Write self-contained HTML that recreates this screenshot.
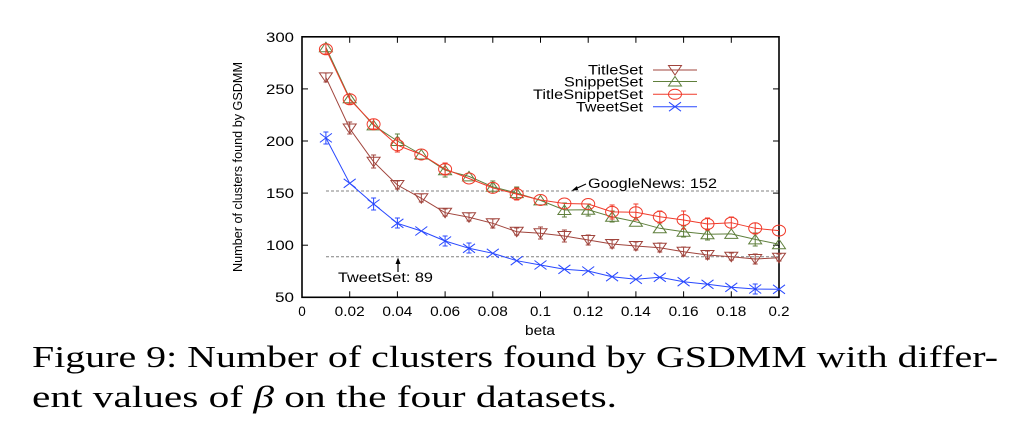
<!DOCTYPE html>
<html>
<head>
<meta charset="utf-8">
<style>
html,body{margin:0;padding:0;background:#fff;}
svg{display:block;}
</style>
</head>
<body>
<svg width="1024" height="438" viewBox="0 0 1024 438" xmlns="http://www.w3.org/2000/svg">
<rect width="1024" height="438" fill="#fff"/>

<!-- dashed reference lines -->
<g stroke="#808080" stroke-width="1" stroke-dasharray="3,2" fill="none">
  <line x1="326" y1="191" x2="779" y2="191"/>
  <line x1="326" y1="256.7" x2="779" y2="256.7"/>
</g>

<!-- axes frame -->
<rect x="302" y="36.8" width="477" height="260.5" fill="none" stroke="#000" stroke-width="1.6"/>

<!-- ticks -->
<g stroke="#000" stroke-width="1">
  <!-- x ticks bottom & top -->
  <line x1="349.7" y1="297.3" x2="349.7" y2="291.3"/><line x1="349.7" y1="36.8" x2="349.7" y2="42.8"/>
  <line x1="397.4" y1="297.3" x2="397.4" y2="291.3"/><line x1="397.4" y1="36.8" x2="397.4" y2="42.8"/>
  <line x1="445.1" y1="297.3" x2="445.1" y2="291.3"/><line x1="445.1" y1="36.8" x2="445.1" y2="42.8"/>
  <line x1="492.8" y1="297.3" x2="492.8" y2="291.3"/><line x1="492.8" y1="36.8" x2="492.8" y2="42.8"/>
  <line x1="540.5" y1="297.3" x2="540.5" y2="291.3"/><line x1="540.5" y1="36.8" x2="540.5" y2="42.8"/>
  <line x1="588.2" y1="297.3" x2="588.2" y2="291.3"/><line x1="588.2" y1="36.8" x2="588.2" y2="42.8"/>
  <line x1="635.9" y1="297.3" x2="635.9" y2="291.3"/><line x1="635.9" y1="36.8" x2="635.9" y2="42.8"/>
  <line x1="683.6" y1="297.3" x2="683.6" y2="291.3"/><line x1="683.6" y1="36.8" x2="683.6" y2="42.8"/>
  <line x1="731.3" y1="297.3" x2="731.3" y2="291.3"/><line x1="731.3" y1="36.8" x2="731.3" y2="42.8"/>
  <!-- y ticks left & right -->
  <line x1="302" y1="245.2" x2="308" y2="245.2"/><line x1="779" y1="245.2" x2="773" y2="245.2"/>
  <line x1="302" y1="193.1" x2="308" y2="193.1"/><line x1="779" y1="193.1" x2="773" y2="193.1"/>
  <line x1="302" y1="141" x2="308" y2="141"/><line x1="779" y1="141" x2="773" y2="141"/>
  <line x1="302" y1="88.9" x2="308" y2="88.9"/><line x1="779" y1="88.9" x2="773" y2="88.9"/>
</g>

<!-- tick labels -->
<g font-family="Liberation Sans, Arial, sans-serif" font-size="13.5" fill="#000">
  <text x="294" y="42" text-anchor="end" textLength="28" lengthAdjust="spacingAndGlyphs">300</text>
  <text x="294" y="94" text-anchor="end" textLength="28" lengthAdjust="spacingAndGlyphs">250</text>
  <text x="294" y="146" text-anchor="end" textLength="28" lengthAdjust="spacingAndGlyphs">200</text>
  <text x="294" y="198" text-anchor="end" textLength="28" lengthAdjust="spacingAndGlyphs">150</text>
  <text x="294" y="250" text-anchor="end" textLength="28" lengthAdjust="spacingAndGlyphs">100</text>
  <text x="294" y="302" text-anchor="end" textLength="19" lengthAdjust="spacingAndGlyphs">50</text>

  <text x="302" y="316" text-anchor="middle">0</text>
  <text x="349.7" y="316" text-anchor="middle" textLength="30" lengthAdjust="spacingAndGlyphs">0.02</text>
  <text x="397.4" y="316" text-anchor="middle" textLength="30" lengthAdjust="spacingAndGlyphs">0.04</text>
  <text x="445.1" y="316" text-anchor="middle" textLength="30" lengthAdjust="spacingAndGlyphs">0.06</text>
  <text x="492.8" y="316" text-anchor="middle" textLength="30" lengthAdjust="spacingAndGlyphs">0.08</text>
  <text x="540.5" y="316" text-anchor="middle" textLength="21" lengthAdjust="spacingAndGlyphs">0.1</text>
  <text x="588.2" y="316" text-anchor="middle" textLength="30" lengthAdjust="spacingAndGlyphs">0.12</text>
  <text x="635.9" y="316" text-anchor="middle" textLength="30" lengthAdjust="spacingAndGlyphs">0.14</text>
  <text x="683.6" y="316" text-anchor="middle" textLength="30" lengthAdjust="spacingAndGlyphs">0.16</text>
  <text x="731.3" y="316" text-anchor="middle" textLength="30" lengthAdjust="spacingAndGlyphs">0.18</text>
  <text x="779" y="316" text-anchor="middle" textLength="21" lengthAdjust="spacingAndGlyphs">0.2</text>

  <text x="540" y="335" text-anchor="middle" textLength="30" lengthAdjust="spacingAndGlyphs">beta</text>

  <text transform="translate(242,167) rotate(-90)" text-anchor="middle" font-size="12.5" textLength="210" lengthAdjust="spacingAndGlyphs">Number of clusters found by GSDMM</text>

  <!-- annotations -->
  <text x="588" y="188" textLength="129" lengthAdjust="spacingAndGlyphs">GoogleNews: 152</text>
  <text x="338" y="282" textLength="95" lengthAdjust="spacingAndGlyphs">TweetSet: 89</text>

  <!-- legend text -->
  <text x="643" y="74.5" text-anchor="end" textLength="55" lengthAdjust="spacingAndGlyphs">TitleSet</text>
  <text x="643" y="86.5" text-anchor="end" textLength="79" lengthAdjust="spacingAndGlyphs">SnippetSet</text>
  <text x="643" y="99" text-anchor="end" textLength="110" lengthAdjust="spacingAndGlyphs">TitleSnippetSet</text>
  <text x="643" y="111.5" text-anchor="end" textLength="67" lengthAdjust="spacingAndGlyphs">TweetSet</text>
</g>

<!-- annotation arrows -->
<g stroke="#000" stroke-width="1.2" fill="#000">
  <line x1="586" y1="184" x2="574" y2="189.5"/>
  <polygon points="571.5,190.8 577,186 578,190" stroke="none"/>
  <line x1="398" y1="272" x2="398" y2="262"/>
  <polygon points="398,257.5 395.5,264 400.5,264" stroke="none"/>
</g>

<!-- TitleSet (brown, down triangles) -->
<g stroke="#a0443c" stroke-width="1" fill="none">
  <polyline points="325.9,77.4 349.7,128.5 373.6,161.8 397.4,185 421.3,198.3 445.1,212.7 469,217.3 492.8,223.3 516.7,231.7 540.5,233.3 564.4,236 588.2,240 612.1,244 635.9,246 659.8,247.7 683.6,251.7 707.5,255 731.3,256.7 755.2,259 779,257.7"/>
  <g id="ebT">
    <path d="M325.9,73v9 M323.5,73h5 M323.5,82h5"/>
    <path d="M349.7,122v12 M347.2,122h5 M347.2,134h5"/>
    <path d="M373.6,155v13 M371.1,155h5 M371.1,168h5"/>
    <path d="M397.4,181v8 M394.9,181h5 M394.9,189h5"/>
    <path d="M421.3,194v8 M418.8,194h5 M418.8,202h5"/>
    <path d="M445.1,209v7 M442.6,209h5 M442.6,216h5"/>
    <path d="M469,213v8 M466.5,213h5 M466.5,221h5"/>
    <path d="M492.8,219v9 M490.3,219h5 M490.3,228h5"/>
    <path d="M516.7,228v7 M514.2,228h5 M514.2,235h5"/>
    <path d="M540.5,227v12 M538,227h5 M538,239h5"/>
    <path d="M564.4,230v12 M561.9,230h5 M561.9,242h5"/>
    <path d="M588.2,235v10 M585.7,235h5 M585.7,245h5"/>
    <path d="M612.1,240v8 M609.6,240h5 M609.6,248h5"/>
    <path d="M635.9,242v8 M633.4,242h5 M633.4,250h5"/>
    <path d="M659.8,243v9 M657.3,243h5 M657.3,252h5"/>
    <path d="M683.6,247v9 M681.1,247h5 M681.1,256h5"/>
    <path d="M707.5,251v8 M705,251h5 M705,259h5"/>
    <path d="M731.3,253v7 M728.8,253h5 M728.8,260h5"/>
    <path d="M755.2,254v10 M752.7,254h5 M752.7,264h5"/>
    <path d="M779,254v7 M776.5,254h5 M776.5,261h5"/>
  </g>
  <g>
    <polygon points="319.4,72.9 332.4,72.9 325.9,82.4"/>
    <polygon points="343.2,124 356.2,124 349.7,133.5"/>
    <polygon points="367.1,157.3 380.1,157.3 373.6,166.8"/>
    <polygon points="390.9,180.5 403.9,180.5 397.4,190"/>
    <polygon points="414.8,193.8 427.8,193.8 421.3,203.3"/>
    <polygon points="438.6,208.2 451.6,208.2 445.1,217.7"/>
    <polygon points="462.5,212.8 475.5,212.8 469,222.3"/>
    <polygon points="486.3,218.8 499.3,218.8 492.8,228.3"/>
    <polygon points="510.2,227.2 523.2,227.2 516.7,236.7"/>
    <polygon points="534,228.8 547,228.8 540.5,238.3"/>
    <polygon points="557.9,231.5 570.9,231.5 564.4,241"/>
    <polygon points="581.7,235.5 594.7,235.5 588.2,245"/>
    <polygon points="605.6,239.5 618.6,239.5 612.1,249"/>
    <polygon points="629.4,241.5 642.4,241.5 635.9,251"/>
    <polygon points="653.3,243.2 666.3,243.2 659.8,252.7"/>
    <polygon points="677.1,247.2 690.1,247.2 683.6,256.7"/>
    <polygon points="701,250.5 714,250.5 707.5,260"/>
    <polygon points="724.8,252.2 737.8,252.2 731.3,261.7"/>
    <polygon points="748.7,254.5 761.7,254.5 755.2,264"/>
    <polygon points="772.5,253.2 785.5,253.2 779,262.7"/>
  </g>
</g>

<!-- SnippetSet (green, up triangles) -->
<g stroke="#5f7f3c" stroke-width="1" fill="none">
  <polyline points="325.9,47.2 349.7,98.3 373.6,125.4 397.4,141 421.3,154.5 445.1,170.2 469,176.4 492.8,186.8 516.7,193.1 540.5,200.4 564.4,210 588.2,209.8 612.1,216.8 635.9,221.8 659.8,228.3 683.6,231.7 707.5,234.3 731.3,233.9 755.2,239.4 779,244.2"/>
  <path d="M397.4,134v18 M394.9,134h5 M394.9,152h5"/>
  <path d="M445.1,164v13 M442.6,164h5 M442.6,177h5"/>
  <path d="M492.8,181v12 M490.3,181h5 M490.3,193h5"/>
  <path d="M516.7,187v12 M514.2,187h5 M514.2,199h5"/>
  <path d="M564.4,203v14 M561.9,203h5 M561.9,217h5"/>
  <path d="M588.2,204v12 M585.7,204h5 M585.7,216h5"/>
  <path d="M612.1,211v11 M609.6,211h5 M609.6,222h5"/>
  <path d="M683.6,226v11 M681.1,226h5 M681.1,237h5"/>
  <path d="M707.5,229v11 M705,229h5 M705,240h5"/>
  <path d="M755.2,233v13 M752.7,233h5 M752.7,246h5"/>
  <g>
    <polygon points="319.4,51.7 332.4,51.7 325.9,42.2"/>
    <polygon points="343.2,102.8 356.2,102.8 349.7,93.3"/>
    <polygon points="367.1,129.9 380.1,129.9 373.6,120.4"/>
    <polygon points="390.9,145.5 403.9,145.5 397.4,136"/>
    <polygon points="414.8,159 427.8,159 421.3,149.5"/>
    <polygon points="438.6,174.7 451.6,174.7 445.1,165.2"/>
    <polygon points="462.5,180.9 475.5,180.9 469,171.4"/>
    <polygon points="486.3,191.3 499.3,191.3 492.8,181.8"/>
    <polygon points="510.2,197.6 523.2,197.6 516.7,188.1"/>
    <polygon points="534,204.9 547,204.9 540.5,195.4"/>
    <polygon points="557.9,214.5 570.9,214.5 564.4,205"/>
    <polygon points="581.7,214.3 594.7,214.3 588.2,204.8"/>
    <polygon points="605.6,221.3 618.6,221.3 612.1,211.8"/>
    <polygon points="629.4,226.3 642.4,226.3 635.9,216.8"/>
    <polygon points="653.3,232.8 666.3,232.8 659.8,223.3"/>
    <polygon points="677.1,236.2 690.1,236.2 683.6,226.7"/>
    <polygon points="701,238.8 714,238.8 707.5,229.3"/>
    <polygon points="724.8,238.4 737.8,238.4 731.3,228.9"/>
    <polygon points="748.7,243.9 761.7,243.9 755.2,234.4"/>
    <polygon points="772.5,248.7 785.5,248.7 779,239.2"/>
  </g>
</g>

<!-- TitleSnippetSet (red, circles) -->
<g stroke="#f03a2a" stroke-width="1" fill="none">
  <polyline points="325.9,49.3 349.7,99.3 373.6,124.3 397.4,145.2 421.3,154.5 445.1,169.1 469,178.5 492.8,187.9 516.7,194.1 540.5,200 564.4,203.5 588.2,204 612.1,211.9 635.9,212.3 659.8,216.8 683.6,220 707.5,224 731.3,222.7 755.2,228.3 779,230.6"/>
  <path d="M325.9,44v10 M323.4,44h5 M323.4,54h5"/>
  <path d="M349.7,94v10 M347.2,94h5 M347.2,104h5"/>
  <path d="M373.6,119v10 M371.1,119h5 M371.1,129h5"/>
  <path d="M397.4,138v14 M394.9,138h5 M394.9,152h5"/>
  <path d="M445.1,163v12 M442.6,163h5 M442.6,175h5"/>
  <path d="M516.7,188v12 M514.2,188h5 M514.2,200h5"/>
  <path d="M612.1,205v14 M609.6,205h5 M609.6,219h5"/>
  <path d="M635.9,204v16 M633.4,204h5 M633.4,220h5"/>
  <path d="M659.8,211v12 M657.3,211h5 M657.3,223h5"/>
  <path d="M683.6,211v18 M681.1,211h5 M681.1,229h5"/>
  <path d="M707.5,218v12 M705,218h5 M705,230h5"/>
  <path d="M731.3,217v11 M728.8,217h5 M728.8,228h5"/>
  <path d="M755.2,223v11 M752.7,223h5 M752.7,234h5"/>
  <g>
    <ellipse cx="325.9" cy="49.3" rx="6.5" ry="5.5"/>
    <ellipse cx="349.7" cy="99.3" rx="6.5" ry="5.5"/>
    <ellipse cx="373.6" cy="124.3" rx="6.5" ry="5.5"/>
    <ellipse cx="397.4" cy="145.2" rx="6.5" ry="5.5"/>
    <ellipse cx="421.3" cy="154.5" rx="6.5" ry="5.5"/>
    <ellipse cx="445.1" cy="169.1" rx="6.5" ry="5.5"/>
    <ellipse cx="469" cy="178.5" rx="6.5" ry="5.5"/>
    <ellipse cx="492.8" cy="187.9" rx="6.5" ry="5.5"/>
    <ellipse cx="516.7" cy="194.1" rx="6.5" ry="5.5"/>
    <ellipse cx="540.5" cy="200" rx="6.5" ry="5.5"/>
    <ellipse cx="564.4" cy="203.5" rx="6.5" ry="5.5"/>
    <ellipse cx="588.2" cy="204" rx="6.5" ry="5.5"/>
    <ellipse cx="612.1" cy="211.9" rx="6.5" ry="5.5"/>
    <ellipse cx="635.9" cy="212.3" rx="6.5" ry="5.5"/>
    <ellipse cx="659.8" cy="216.8" rx="6.5" ry="5.5"/>
    <ellipse cx="683.6" cy="220" rx="6.5" ry="5.5"/>
    <ellipse cx="707.5" cy="224" rx="6.5" ry="5.5"/>
    <ellipse cx="731.3" cy="222.7" rx="6.5" ry="5.5"/>
    <ellipse cx="755.2" cy="228.3" rx="6.5" ry="5.5"/>
    <ellipse cx="779" cy="230.6" rx="6.5" ry="5.5"/>
  </g>
</g>

<!-- TweetSet (blue, X) -->
<g stroke="#2848ff" stroke-width="1" fill="none">
  <polyline points="325.9,137.9 349.7,183.3 373.6,204 397.4,223.3 421.3,231 445.1,241 469,248.3 492.8,253.3 516.7,260.7 540.5,265 564.4,269.3 588.2,271 612.1,276.7 635.9,279.3 659.8,277.3 683.6,281.7 707.5,284.3 731.3,287.3 755.2,289 779,289.3"/>
  <path d="M325.9,132v12 M323.4,132h5 M323.4,144h5"/>
  <path d="M373.6,198v12 M371.1,198h5 M371.1,210h5"/>
  <path d="M397.4,218v10 M394.9,218h5 M394.9,228h5"/>
  <path d="M445.1,236v10 M442.6,236h5 M442.6,246h5"/>
  <path d="M469,243v10 M466.5,243h5 M466.5,253h5"/>
  <path d="M755.2,284v10 M752.7,284h5 M752.7,294h5"/>
  <path id="x" d="
    M319.9,133.4l12,9 M319.9,142.4l12,-9
    M343.7,178.8l12,9 M343.7,187.8l12,-9
    M367.6,199.5l12,9 M367.6,208.5l12,-9
    M391.4,218.8l12,9 M391.4,227.8l12,-9
    M415.3,226.5l12,9 M415.3,235.5l12,-9
    M439.1,236.5l12,9 M439.1,245.5l12,-9
    M463,243.8l12,9 M463,252.8l12,-9
    M486.8,248.8l12,9 M486.8,257.8l12,-9
    M510.7,256.2l12,9 M510.7,265.2l12,-9
    M534.5,260.5l12,9 M534.5,269.5l12,-9
    M558.4,264.8l12,9 M558.4,273.8l12,-9
    M582.2,266.5l12,9 M582.2,275.5l12,-9
    M606.1,272.2l12,9 M606.1,281.2l12,-9
    M629.9,274.8l12,9 M629.9,283.8l12,-9
    M653.8,272.8l12,9 M653.8,281.8l12,-9
    M677.6,277.2l12,9 M677.6,286.2l12,-9
    M701.5,279.8l12,9 M701.5,288.8l12,-9
    M725.3,282.8l12,9 M725.3,291.8l12,-9
    M749.2,284.5l12,9 M749.2,293.5l12,-9
    M773,284.8l12,9 M773,293.8l12,-9"/>
</g>

<!-- legend samples -->
<g stroke-width="1" fill="none">
  <line x1="653" y1="70" x2="697" y2="70" stroke="#a0443c"/>
  <polygon points="668.5,65.5 681.5,65.5 675,75" stroke="#a0443c"/>
  <line x1="653" y1="81.5" x2="697" y2="81.5" stroke="#5f7f3c"/>
  <polygon points="668.5,86 681.5,86 675,76.5" stroke="#5f7f3c"/>
  <line x1="653" y1="94.3" x2="697" y2="94.3" stroke="#f03a2a"/>
  <ellipse cx="675" cy="94.3" rx="6.5" ry="5" stroke="#f03a2a"/>
  <line x1="653" y1="106.7" x2="697" y2="106.7" stroke="#2848ff"/>
  <path d="M669,102.2l12,9 M669,111.2l12,-9" stroke="#2848ff"/>
</g>

<!-- caption -->
<g font-family="Liberation Serif, 'DejaVu Serif', serif" font-size="31" fill="#000">
  <text x="32" y="367" textLength="966" lengthAdjust="spacingAndGlyphs">Figure 9: Number of clusters found by GSDMM with differ-</text>
  <text x="32" y="407" textLength="585" lengthAdjust="spacingAndGlyphs">ent values of <tspan font-style="italic">β</tspan> on the four datasets.</text>
</g>
</svg>
</body>
</html>
